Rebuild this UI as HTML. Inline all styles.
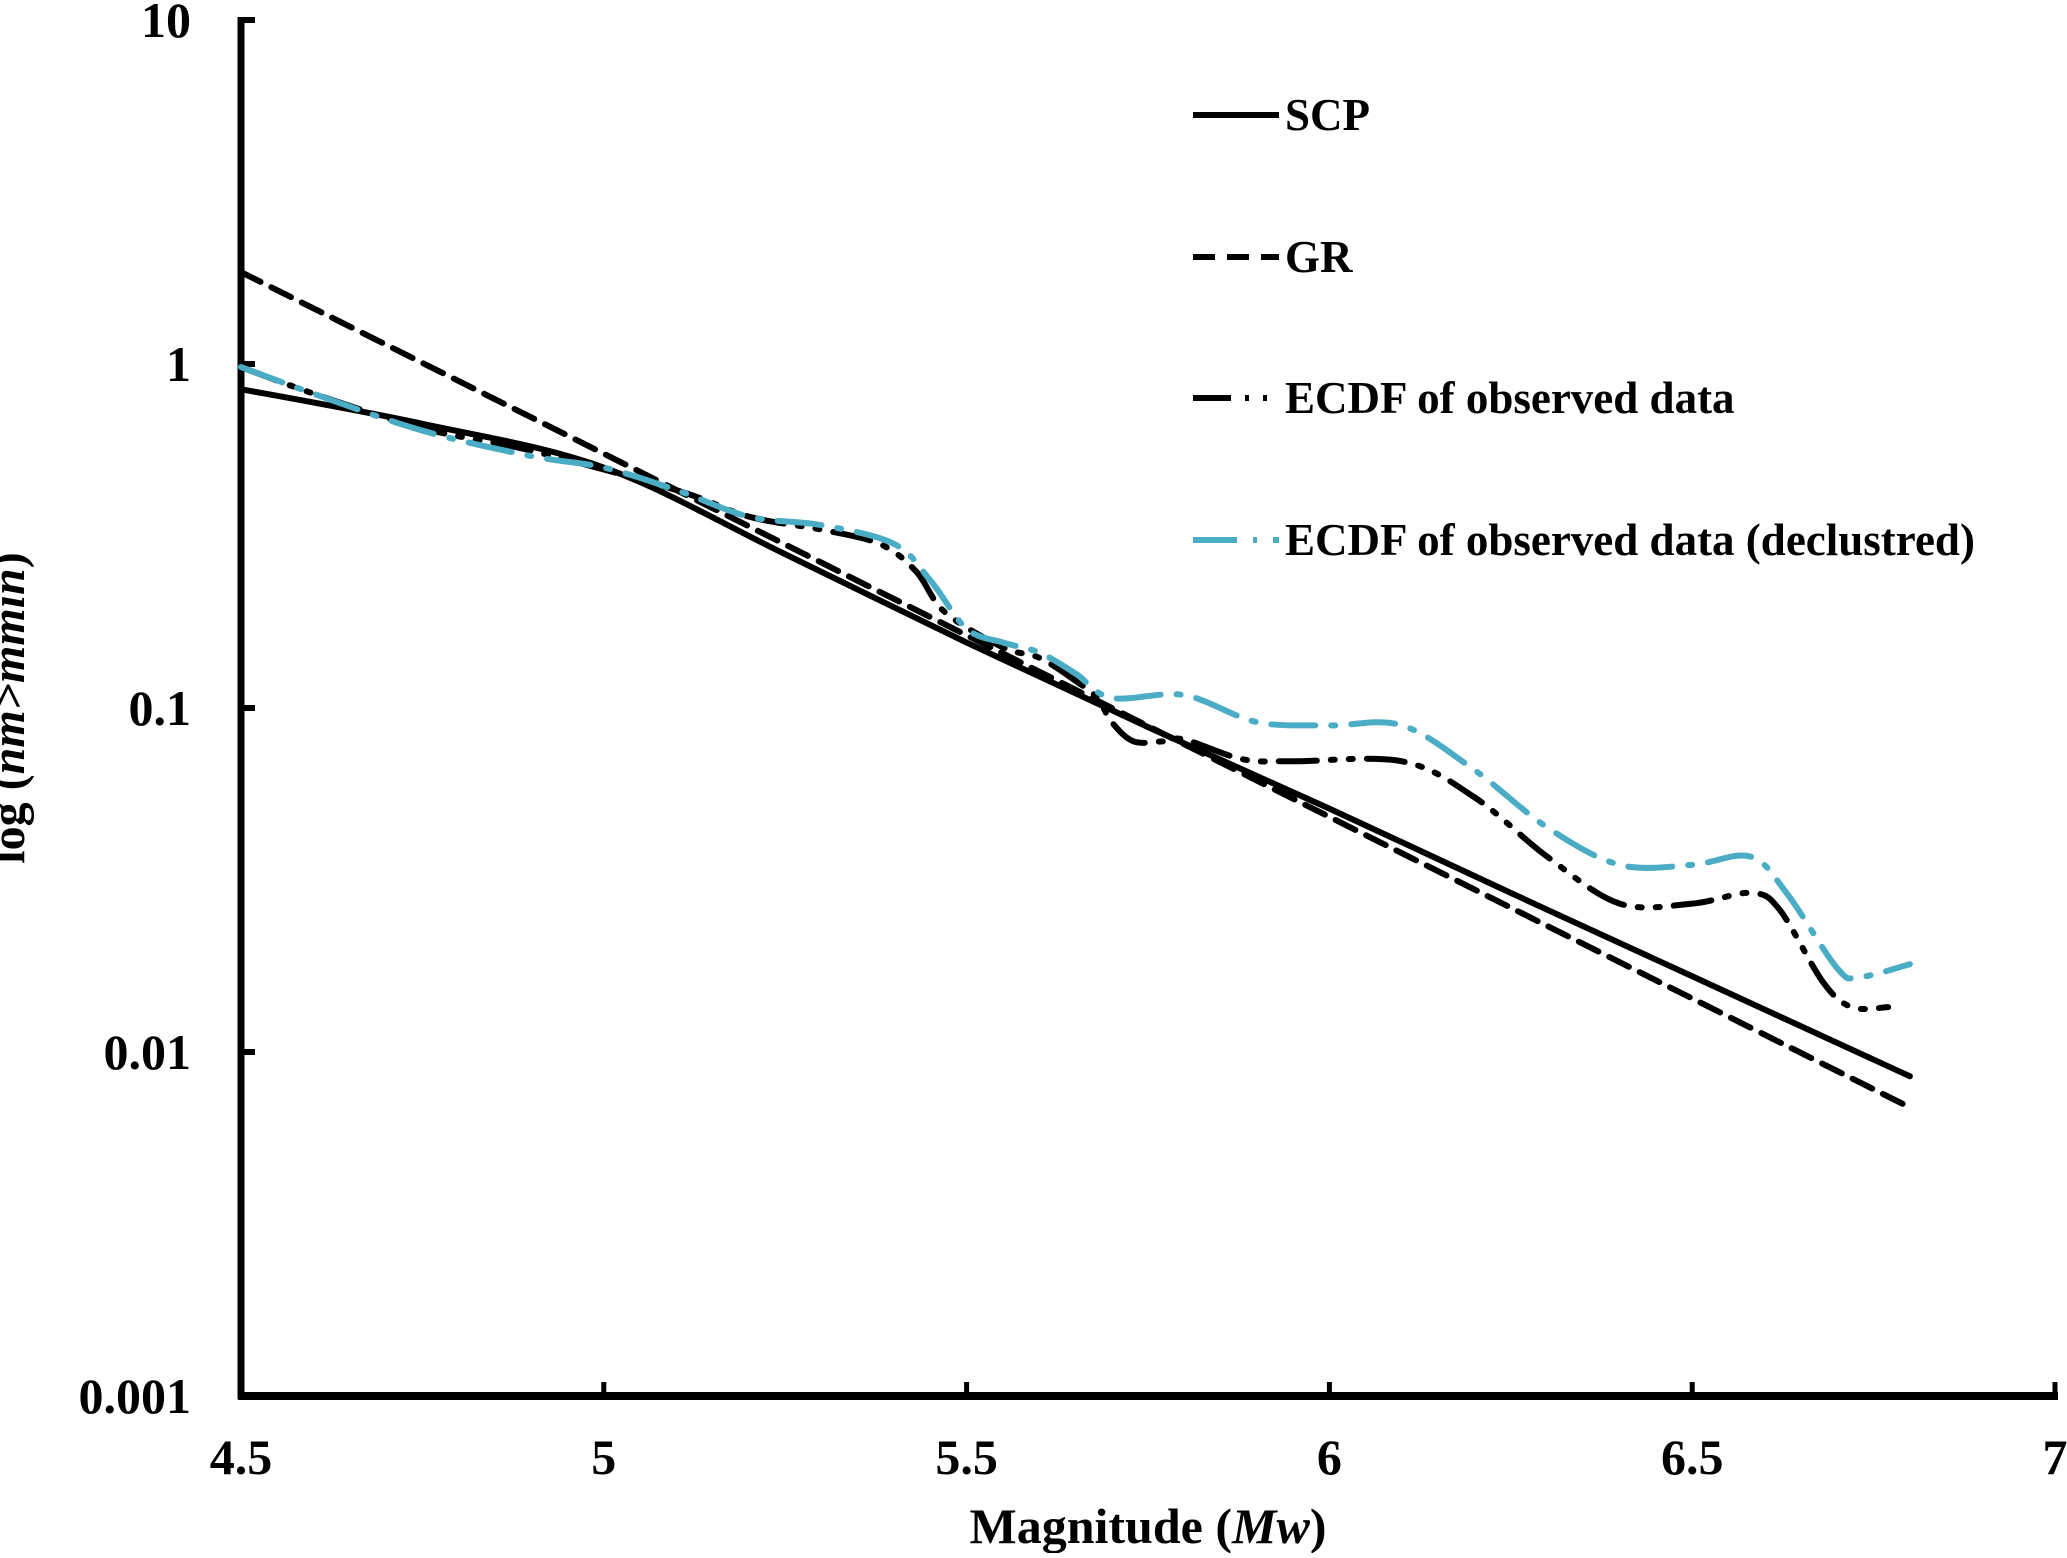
<!DOCTYPE html>
<html><head><meta charset="utf-8"><style>
html,body{margin:0;padding:0;background:#fff;}
svg text{font-family:"Liberation Serif",serif;font-weight:bold;fill:#000;}
</style></head><body>
<svg id="chart" width="2067" height="1553" viewBox="0 0 2067 1553" xmlns="http://www.w3.org/2000/svg">
<g id="axes"></g>
<g id="series"></g>
<g id="legend"></g>
<text x="24" y="708" font-size="48" text-anchor="middle" transform="rotate(-90 24 708)">log (<tspan font-style="italic">nm&gt;mmin</tspan>)</text>
<text x="1148" y="1543" font-size="50" text-anchor="middle">Magnitude (<tspan font-style="italic">Mw</tspan>)</text>
</svg>
<script>
const xTicks=[4.5,5,5.5,6,6.5,7];
const xTickLabels=["4.5","5","5.5","6","6.5","7"];
const yTicks=[10,1,0.1,0.01,0.001];
const yTickLabels=["10","1","0.1","0.01","0.001"];
const scpM=[4.5,4.75,5.0,5.25,5.5,5.75,6.0,6.25,6.5,6.8];
const scpV=[0.845,0.67,0.50,0.28,0.155,0.088,0.051,0.029,0.0166,0.0085];
const grM=[4.5,6.8];
const grV=[1.85,0.0069];
const obsM=[4.5,4.6,4.75,4.9,5.1,5.2,5.3,5.38,5.43,5.47,5.55,5.6,5.65,5.68,5.7,5.73,5.77,5.8,5.88,5.95,6.1,6.2,6.3,6.4,6.5,6.58,6.62,6.68,6.72,6.77];
const obsV=[0.98,0.82,0.65,0.56,0.43,0.36,0.33,0.30,0.25,0.19,0.15,0.14,0.12,0.107,0.091,0.08,0.08,0.081,0.071,0.07,0.07,0.055,0.037,0.027,0.027,0.029,0.026,0.016,0.0135,0.0135];
const decM=[4.5,4.6,4.75,4.9,5.0,5.1,5.2,5.3,5.4,5.45,5.5,5.55,5.6,5.65,5.7,5.8,5.9,6.0,6.1,6.2,6.3,6.4,6.5,6.58,6.63,6.7,6.73,6.8];
const decV=[0.98,0.82,0.64,0.54,0.50,0.43,0.36,0.34,0.30,0.235,0.17,0.155,0.145,0.126,0.107,0.109,0.091,0.089,0.089,0.066,0.045,0.035,0.035,0.037,0.029,0.0175,0.0165,0.018];
const legendLabels=["SCP","GR","ECDF of observed data","ECDF of observed data (declustred)"];

const NS="http://www.w3.org/2000/svg";
const X0=241,X1=2055,YTOP=20,YBOT=1396;
function xs(m){return X0+(m-4.5)/(7-4.5)*(X1-X0);}
function ys(v){return YBOT-(Math.log10(v)+3)/4*(YBOT-YTOP);}
function mk(tag,attrs,parent){const e=document.createElementNS(NS,tag);for(const k in attrs)e.setAttribute(k,attrs[k]);parent.appendChild(e);return e;}
const axes=document.getElementById('axes'),series=document.getElementById('series'),legend=document.getElementById('legend');

let yl=mk('line',{x1:X0,y1:YTOP-3,x2:X0,y2:YBOT+3,stroke:'#000','stroke-width':7},axes);


let xl=mk('line',{x1:X0-3,y1:YBOT,x2:X1+3,y2:YBOT,stroke:'#000','stroke-width':8},axes);


xTicks.forEach((t,i)=>{
  const tk=mk('line',{x1:xs(t),y1:YBOT,x2:xs(t),y2:YBOT-14,stroke:'#000','stroke-width':5},axes);
  
  
  const tx=mk('text',{x:xs(t),y:1474,'font-size':50,'text-anchor':'middle'},axes);
  tx.textContent=xTickLabels[i];
  
  
});
yTicks.forEach((t,i)=>{
  const tk=mk('line',{x1:X0,y1:ys(t),x2:X0+14,y2:ys(t),stroke:'#000','stroke-width':6},axes);
  
  
  const tx=mk('text',{x:191,y:ys(t)+17,'font-size':50,'text-anchor':'end'},axes);
  tx.textContent=yTickLabels[i];
  
  
});
function smooth(M,V){
  const p=M.map((m,i)=>[xs(m),ys(V[i])]);
  let d='M'+p[0][0]+','+p[0][1];
  for(let i=0;i<p.length-1;i++){
    const p0=p[i-1]||p[i],p1=p[i],p2=p[i+1],p3=p[i+2]||p2;
    const c1=[p1[0]+(p2[0]-p0[0])/6,p1[1]+(p2[1]-p0[1])/6];
    const c2=[p2[0]-(p3[0]-p1[0])/6,p2[1]-(p3[1]-p1[1])/6];
    d+=' C'+c1[0]+','+c1[1]+' '+c2[0]+','+c2[1]+' '+p2[0]+','+p2[1];
  }
  return d;
}
const styles=[
 {c:'#000',dash:'',w:6},
 {c:'#000',dash:'22 12',w:6},
 {c:'#000',dash:'38 14 4 14 4 14',w:6},
 {c:'#4bacc6',dash:'44 16 4 16',w:6}
];
const data=[[scpM,scpV],[grM,grV],[obsM,obsV],[decM,decV]];
const names=['scp-line','gr-line','ecdf-observed-line','ecdf-declustered-line'];
data.forEach((d,i)=>{
  const p=mk('path',{d:smooth(d[0],d[1]),fill:'none',stroke:styles[i].c,'stroke-width':styles[i].w,'stroke-dasharray':styles[i].dash,'stroke-linecap':'round'},series);
  
  
});
const ly=[115,257,398,540];
legendLabels.forEach((l,i)=>{
  const ln=mk('line',{x1:1193,y1:ly[i],x2:1279,y2:ly[i],stroke:styles[i].c,'stroke-width':6,'stroke-dasharray':styles[i].dash},legend);
  
  
  const t=mk('text',{x:1285,y:ly[i]+15,'font-size':45},legend);
  t.textContent=l;
  
  
});
</script>
</body></html>
